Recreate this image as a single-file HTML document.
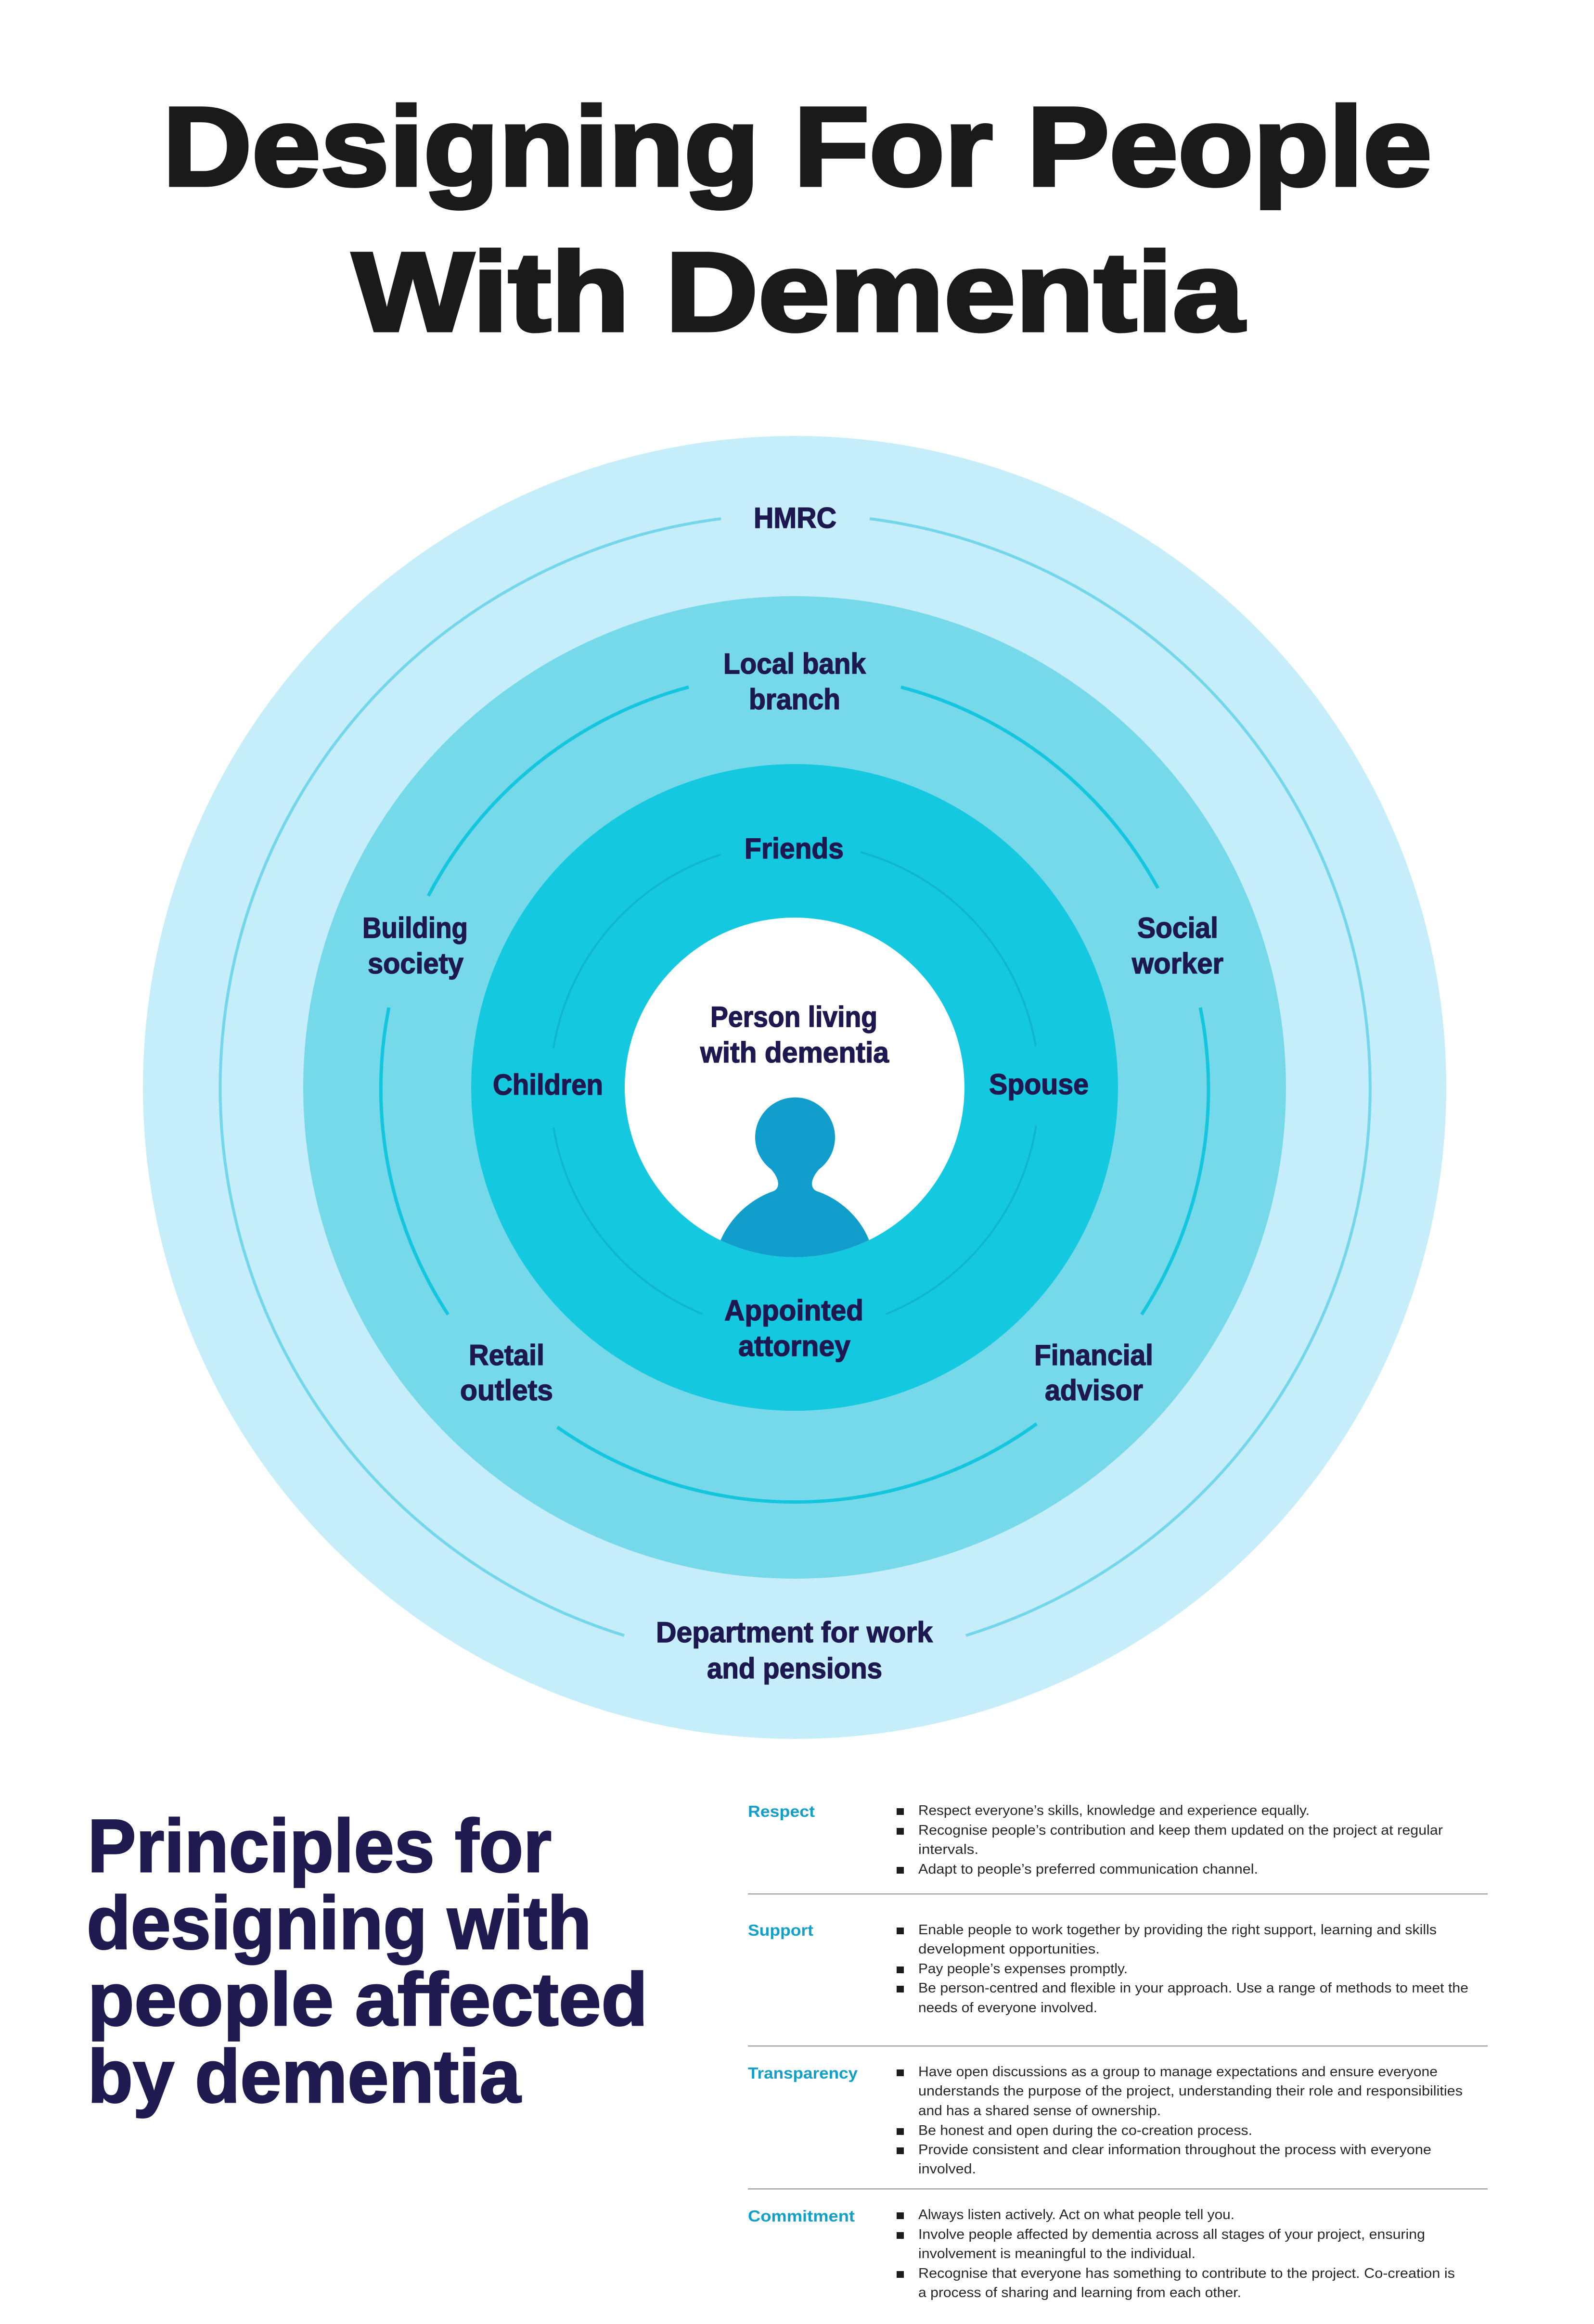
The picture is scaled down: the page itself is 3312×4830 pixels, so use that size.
<!DOCTYPE html>
<html lang="en">
<head>
<meta charset="utf-8">
<title>Designing For People With Dementia</title>
<style>
html,body{margin:0;padding:0;background:#fff;width:3312px;height:4830px;overflow:hidden}
svg{display:block}
text{font-family:"Liberation Sans",sans-serif}
.t{font-weight:700;font-size:233px;fill:#1a1a1a;stroke:#1a1a1a;stroke-width:7px}
.l{font-weight:700;font-size:60px;fill:#1e1850;stroke:#1e1850;stroke-width:1.5px}
.h{font-weight:700;font-size:156px;fill:#1f1a4f;stroke:#1f1a4f;stroke-width:3px}
.k{font-weight:700;font-size:33px;fill:#12a0c8}
.b{font-size:29px;fill:#26262a}
.arc{fill:none;stroke-linecap:butt}
</style>
</head>
<body>
<svg width="3312" height="4830" viewBox="0 0 3312 4830" xmlns="http://www.w3.org/2000/svg">
<defs><clipPath id="wc"><circle cx="1651" cy="2260" r="353"/></clipPath></defs>
<rect width="3312" height="4830" fill="#fff"/>

<text class="t" x="338" y="385" textLength="2637" lengthAdjust="spacingAndGlyphs">Designing For People</text>
<text class="t" x="732" y="687" textLength="1853" lengthAdjust="spacingAndGlyphs">With Dementia</text>

<circle cx="1651" cy="2260" r="1354" fill="#c5eefa"/>
<circle cx="1651" cy="2260" r="1021" fill="#75d9ea"/>
<circle cx="1651" cy="2260" r="672" fill="#13c8df"/>
<circle cx="1651" cy="2260" r="353" fill="#fff"/>

<g class="arc" stroke="#74d6ea" stroke-width="6">
<path class="arc" d="M1498 1078A1192 1192 0 0 0 1297 3399"/>
<path class="arc" d="M1807 1078A1192 1192 0 0 1 2007 3399"/>
</g>
<g class="arc" stroke="#13c5dd" stroke-width="7">
<path class="arc" d="M1431 1428A859 859 0 0 0 890 1862"/>
<path class="arc" d="M1872 1428A859 859 0 0 1 2406 1846"/>
<path class="arc" d="M2494 2094A859 859 0 0 1 2372 2732"/>
<path class="arc" d="M2154 2959A859 859 0 0 1 1158 2966"/>
<path class="arc" d="M931 2732A859 859 0 0 1 808 2094"/>
</g>
<g class="arc" stroke="#10b5d3" stroke-width="4">
<path class="arc" d="M1498 1776A508 508 0 0 0 1150 2178"/>
<path class="arc" d="M1788 1771A508 508 0 0 1 2152 2174"/>
<path class="arc" d="M1150 2343A508 508 0 0 0 1460 2731"/>
<path class="arc" d="M2153 2339A508 508 0 0 1 1841 2731"/>
</g>

<path clip-path="url(#wc)" fill="#119ecc" d="M1485 2620L1497 2578C1520 2525 1565 2490 1606 2476C1622 2470 1620 2450 1602 2430A83 83 0 1 1 1702 2430C1684 2450 1682 2470 1698 2476C1740 2490 1785 2525 1806 2578L1818 2620Z"/>

<text class="l" x="1566" y="1097" textLength="172" lengthAdjust="spacingAndGlyphs">HMRC</text>
<text class="l" x="1503" y="1400" textLength="296" lengthAdjust="spacingAndGlyphs">Local bank</text>
<text class="l" x="1556" y="1474" textLength="190" lengthAdjust="spacingAndGlyphs">branch</text>
<text class="l" x="1547" y="1784" textLength="206" lengthAdjust="spacingAndGlyphs">Friends</text>
<text class="l" x="753" y="1949" textLength="219" lengthAdjust="spacingAndGlyphs">Building</text>
<text class="l" x="764" y="2023" textLength="199" lengthAdjust="spacingAndGlyphs">society</text>
<text class="l" x="2363" y="1949" textLength="168" lengthAdjust="spacingAndGlyphs">Social</text>
<text class="l" x="2352" y="2023" textLength="190" lengthAdjust="spacingAndGlyphs">worker</text>
<text class="l" x="1476" y="2134" textLength="347" lengthAdjust="spacingAndGlyphs">Person living</text>
<text class="l" x="1455" y="2208" textLength="392" lengthAdjust="spacingAndGlyphs">with dementia</text>
<text class="l" x="1024" y="2275" textLength="229" lengthAdjust="spacingAndGlyphs">Children</text>
<text class="l" x="2055" y="2274" textLength="207" lengthAdjust="spacingAndGlyphs">Spouse</text>
<text class="l" x="1505" y="2744" textLength="289" lengthAdjust="spacingAndGlyphs">Appointed</text>
<text class="l" x="1534" y="2818" textLength="233" lengthAdjust="spacingAndGlyphs">attorney</text>
<text class="l" x="974" y="2837" textLength="157" lengthAdjust="spacingAndGlyphs">Retail</text>
<text class="l" x="956" y="2910" textLength="193" lengthAdjust="spacingAndGlyphs">outlets</text>
<text class="l" x="2149" y="2837" textLength="247" lengthAdjust="spacingAndGlyphs">Financial</text>
<text class="l" x="2171" y="2910" textLength="204" lengthAdjust="spacingAndGlyphs">advisor</text>
<text class="l" x="1363" y="3413" textLength="575" lengthAdjust="spacingAndGlyphs">Department for work</text>
<text class="l" x="1469" y="3488" textLength="364" lengthAdjust="spacingAndGlyphs">and pensions</text>

<text class="h" x="182" y="3890" textLength="964" lengthAdjust="spacingAndGlyphs">Principles for</text>
<text class="h" x="180" y="4050" textLength="1049" lengthAdjust="spacingAndGlyphs">designing with</text>
<text class="h" x="182" y="4209" textLength="1164" lengthAdjust="spacingAndGlyphs">people affected</text>
<text class="h" x="182" y="4369" textLength="900" lengthAdjust="spacingAndGlyphs">by dementia</text>

<text class="k" x="1554" y="3776" textLength="139" lengthAdjust="spacingAndGlyphs">Respect</text>
<text class="k" x="1554" y="4023" textLength="136" lengthAdjust="spacingAndGlyphs">Support</text>
<text class="k" x="1554" y="4320" textLength="228" lengthAdjust="spacingAndGlyphs">Transparency</text>
<text class="k" x="1554" y="4617" textLength="222" lengthAdjust="spacingAndGlyphs">Commitment</text>

<g fill="#a3a3a3">
<rect x="1554" y="3935" width="1537" height="2.5"/>
<rect x="1554" y="4251" width="1537" height="2.5"/>
<rect x="1554" y="4548" width="1537" height="2.5"/>
</g>

<g fill="#1c1c20">
<rect x="1863" y="3758" width="15" height="14"/>
<rect x="1863" y="3799" width="15" height="14"/>
<rect x="1863" y="3880" width="15" height="14"/>
<rect x="1863" y="4006" width="15" height="14"/>
<rect x="1863" y="4087" width="15" height="14"/>
<rect x="1863" y="4127" width="15" height="14"/>
<rect x="1863" y="4301" width="15" height="14"/>
<rect x="1863" y="4423" width="15" height="14"/>
<rect x="1863" y="4463" width="15" height="14"/>
<rect x="1863" y="4598" width="15" height="14"/>
<rect x="1863" y="4639" width="15" height="14"/>
<rect x="1863" y="4720" width="15" height="14"/>
</g>

<text class="b" x="1908" y="3772" textLength="813" lengthAdjust="spacingAndGlyphs">Respect everyone’s skills, knowledge and experience equally.</text>
<text class="b" x="1908" y="3813" textLength="1090" lengthAdjust="spacingAndGlyphs">Recognise people’s contribution and keep them updated on the project at regular</text>
<text class="b" x="1908" y="3853" textLength="125" lengthAdjust="spacingAndGlyphs">intervals.</text>
<text class="b" x="1908" y="3894" textLength="706" lengthAdjust="spacingAndGlyphs">Adapt to people’s preferred communication channel.</text>

<text class="b" x="1908" y="4020" textLength="1077" lengthAdjust="spacingAndGlyphs">Enable people to work together by providing the right support, learning and skills</text>
<text class="b" x="1908" y="4060" textLength="377" lengthAdjust="spacingAndGlyphs">development opportunities.</text>
<text class="b" x="1908" y="4101" textLength="435" lengthAdjust="spacingAndGlyphs">Pay people’s expenses promptly.</text>
<text class="b" x="1908" y="4141" textLength="1143" lengthAdjust="spacingAndGlyphs">Be person-centred and flexible in your approach. Use a range of methods to meet the</text>
<text class="b" x="1908" y="4182" textLength="372" lengthAdjust="spacingAndGlyphs">needs of everyone involved.</text>

<text class="b" x="1908" y="4315" textLength="1079" lengthAdjust="spacingAndGlyphs">Have open discussions as a group to manage expectations and ensure everyone</text>
<text class="b" x="1908" y="4355" textLength="1131" lengthAdjust="spacingAndGlyphs">understands the purpose of the project, understanding their role and responsibilities</text>
<text class="b" x="1908" y="4396" textLength="504" lengthAdjust="spacingAndGlyphs">and has a shared sense of ownership.</text>
<text class="b" x="1908" y="4437" textLength="694" lengthAdjust="spacingAndGlyphs">Be honest and open during the co-creation process.</text>
<text class="b" x="1908" y="4477" textLength="1066" lengthAdjust="spacingAndGlyphs">Provide consistent and clear information throughout the process with everyone</text>
<text class="b" x="1908" y="4517" textLength="120" lengthAdjust="spacingAndGlyphs">involved.</text>

<text class="b" x="1908" y="4612" textLength="657" lengthAdjust="spacingAndGlyphs">Always listen actively. Act on what people tell you.</text>
<text class="b" x="1908" y="4653" textLength="1053" lengthAdjust="spacingAndGlyphs">Involve people affected by dementia across all stages of your project, ensuring</text>
<text class="b" x="1908" y="4693" textLength="576" lengthAdjust="spacingAndGlyphs">involvement is meaningful to the individual.</text>
<text class="b" x="1908" y="4734" textLength="1115" lengthAdjust="spacingAndGlyphs">Recognise that everyone has something to contribute to the project. Co-creation is</text>
<text class="b" x="1908" y="4774" textLength="671" lengthAdjust="spacingAndGlyphs">a process of sharing and learning from each other.</text>
</svg>
</body>
</html>
